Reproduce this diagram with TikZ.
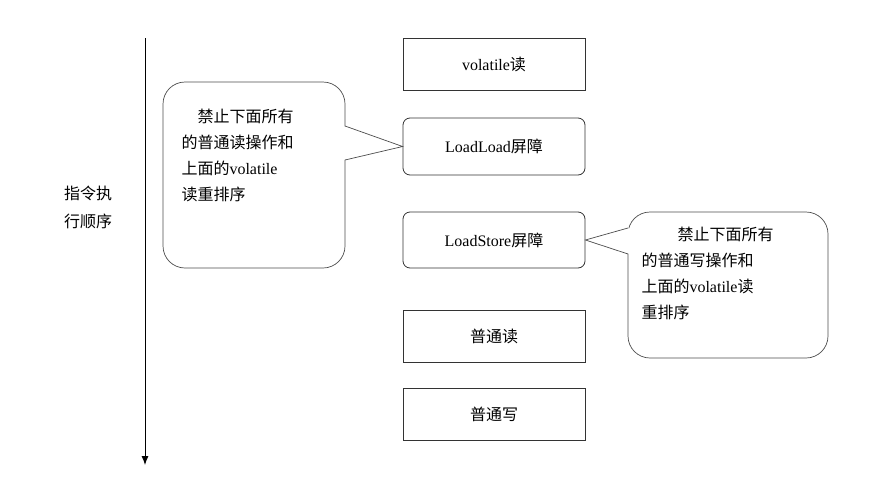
\documentclass[tikz,border=0pt]{standalone}
\usepackage{fontspec}
\usetikzlibrary{arrows.meta}
\setmainfont{Liberation Serif}
\newfontfamily\cjk{Noto Sans CJK SC}
\begin{document}
\begin{tikzpicture}[x=1pt,y=-1pt,
  bx/.style={draw=black!80,line width=0.8pt,minimum width=182pt,inner sep=0pt,font=\fontsize{16}{19}\selectfont},
  rbx/.style={bx,rounded corners=7pt},
  call/.style={draw=black!70,line width=0.7pt,rounded corners=22pt},
  ctext/.style={font=\fontsize{16}{26}\selectfont,align=left,anchor=north west}]
\useasboundingbox (0,0) rectangle (891,482);
\coordinate (top) at (145,38);
\coordinate (bot) at (145,465);
\draw[line width=0.9pt,-{Latex[length=9pt,width=7pt]}] (top) -- (bot);
\node[font=\fontsize{16}{28}\selectfont,align=left] (lbl) at (88,207) {{\cjk 指令执}\\{\cjk 行顺序}};
\node[bx,minimum height=52pt] (v) at (494,64) {volatile{\cjk 读}};
\node[rbx,minimum height=57pt] (ll) at (494,146.5) {LoadLoad{\cjk 屏障}};
\node[rbx,minimum height=56pt] (ls) at (494,240) {LoadStore{\cjk 屏障}};
\node[bx,minimum height=52pt] (r) at (494,336) {{\cjk 普通读}};
\node[bx,minimum height=52pt] (w) at (494,414) {{\cjk 普通写}};
% left callout
\draw[call] (163,82) rectangle (345,268);
\fill[white] (343.5,126) -- (ll.west) -- (343.5,160) -- cycle;
\draw[draw=black!70,line width=0.7pt] (345,126) -- (ll.west) -- (345,160);
\node[ctext] (lt) at (178,106) {\quad{\cjk 禁止下面所有}\\{\cjk 的普通读操作和}\\{\cjk 上面的}volatile\\{\cjk 读重排序}};
% right callout
\draw[call] (628,212) rectangle (828,358);
\fill[white] (629.5,228) -- (ls.east) -- (629.5,254) -- cycle;
\draw[draw=black!70,line width=0.7pt] (628,228) -- (ls.east) -- (628,254);
\node[ctext] (rt) at (638,224) {\qquad\ {\cjk 禁止下面所有}\\{\cjk 的普通写操作和}\\{\cjk 上面的}volatile{\cjk 读}\\{\cjk 重排序}};
\end{tikzpicture}
\end{document}
